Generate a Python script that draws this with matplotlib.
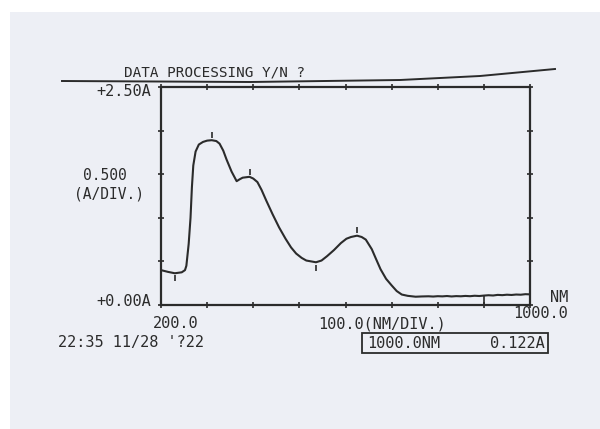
import matplotlib
matplotlib.use("Agg")
import matplotlib.pyplot as plt
from matplotlib.patches import Rectangle
from matplotlib.lines import Line2D

# absorbance scan, 200-1000 nm
wavelength = [200, 215, 230, 245, 252, 255, 260, 264, 267, 270, 275, 282, 291,
              300, 310, 320, 327, 335, 342, 353, 360, 364, 370, 377, 392, 400,
              409, 418, 428, 442, 456, 470, 482, 493, 505, 515, 536, 548, 560,
              575, 590, 602, 612, 625, 635, 644, 657, 666, 676, 688, 700, 711,
              722, 735, 752, 765, 780, 790, 800, 810, 820, 830, 840, 850, 860,
              870, 880, 890, 900, 910, 920, 930, 940, 950, 960, 970, 980, 990,
              1000]
absorbance = [0.40, 0.38, 0.364, 0.375, 0.40, 0.45, 0.70, 1.00, 1.35, 1.60,
              1.76, 1.84, 1.87, 1.885, 1.89, 1.88, 1.85, 1.77, 1.67, 1.53,
              1.46, 1.42, 1.44, 1.46, 1.47, 1.45, 1.41, 1.32, 1.20, 1.04, 0.89,
              0.76, 0.66, 0.59, 0.54, 0.51, 0.49, 0.51, 0.56, 0.63, 0.71, 0.76,
              0.78, 0.795, 0.78, 0.75, 0.64, 0.53, 0.41, 0.30, 0.225, 0.16,
              0.12, 0.105, 0.095, 0.098, 0.100, 0.097, 0.101, 0.099, 0.103,
              0.098, 0.102, 0.100, 0.104, 0.101, 0.106, 0.103, 0.108, 0.112,
              0.109, 0.116, 0.113, 0.118, 0.115, 0.120, 0.118, 0.124, 0.122]

# peak / valley picks
peak_wl = [310, 392, 625]
peak_abs = [1.89, 1.47, 0.795]
valley_wl = [230, 536]
valley_abs = [0.364, 0.49]

cursor_wl = 900
cursor_abs = 0.108

W, H = 600, 429
ink = "#2b2b2b"
mono = "DejaVu Sans Mono"

fig = plt.figure(figsize=(W / 100, H / 100), dpi=100, facecolor="white")
# sheet of paper behind everything
fig.patches.append(Rectangle((10 / W, 0), (W - 10) / W, (H - 12) / H,
                             transform=fig.transFigure, facecolor="#edeff5",
                             edgecolor="none", zorder=-10))


def px_text(x, y, s, ha="left", size=11):
    fig.text(x / W, 1 - y / H, s, ha=ha, va="center", color=ink,
             family=mono, fontsize=size)


left, right, top, bottom = 161, 530, 87, 305
ax = fig.add_axes([left / W, 1 - bottom / H, (right - left) / W, (bottom - top) / H])
ax.set_facecolor("none")
ax.plot(wavelength, absorbance, color=ink, lw=1.5)
ax.plot(peak_wl, [a + 0.06 for a in peak_abs], ls="none", marker="|",
        ms=4, mew=1.2, color=ink)
ax.plot(valley_wl, [a - 0.06 for a in valley_abs], ls="none", marker="|",
        ms=4, mew=1.2, color=ink)
ax.vlines(cursor_wl, 0, cursor_abs, color=ink, lw=1.2)

ax.set_xlim(200, 1000)
ax.set_ylim(0, 2.5)
ax.set_xticks(range(200, 1001, 100))
ax.set_yticks([0, 0.5, 1.0, 1.5, 2.0, 2.5])
ax.tick_params(direction="inout", length=5, width=1.2, color=ink,
               top=True, right=True, labelbottom=False, labelleft=False)
for sp in ax.spines.values():
    sp.set_color(ink)
    sp.set_linewidth(1.6)

# header and its rule
px_text(124, 73, "DATA PROCESSING Y/N ?", size=10.3)
hx = [62, 250, 400, 480, 555]
hy = [81, 82, 80, 76, 69]
fig.add_artist(Line2D([x / W for x in hx], [1 - y / H for y in hy],
                      transform=fig.transFigure, color=ink, lw=1.4))

# axis annotations
px_text(151, 92, "+2.50A", ha="right")
px_text(151, 302, "+0.00A", ha="right")
px_text(83, 176, "0.500", size=10.5)
px_text(74, 194, "(A/DIV.)", size=10.5)
px_text(153, 324, "200.0")
px_text(318, 324, "100.0(NM/DIV.)")
px_text(568, 298, "NM", ha="right")
px_text(568, 314, "1000.0", ha="right")
px_text(58, 343, "22:35 11/28 '?22")

# cursor readout box
fig.patches.append(Rectangle((362 / W, 1 - 353 / H), 186 / W, 20 / H,
                             transform=fig.transFigure, facecolor="none",
                             edgecolor=ink, lw=1.3))
px_text(367, 343, "1000.0NM")
px_text(545, 343, "0.122A", ha="right")

fig.savefig("out.png", dpi=100, facecolor=fig.get_facecolor())
